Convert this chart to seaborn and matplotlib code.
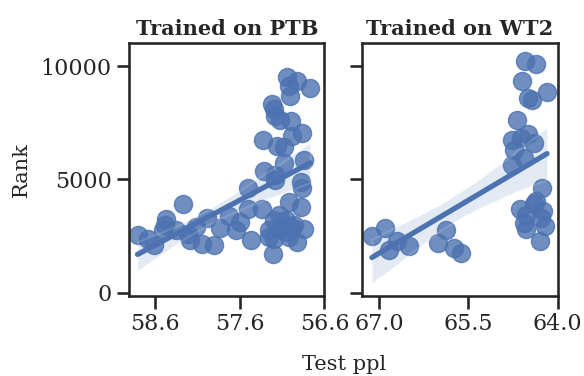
import seaborn as sns
from matplotlib import pyplot as plt
import pandas as pd

ptb_ppl = [58.81, 58.69, 58.61, 58.51, 58.47, 58.48, 58.35, 58.27, 58.21, 58.19,
           58.12, 58.05, 57.99, 57.91, 57.83, 57.73, 57.64, 57.60, 57.50, 57.50,
           57.47, 57.34, 57.33, 57.31, 57.26, 57.26, 57.22, 57.20, 57.18, 57.20,
           57.21, 57.20, 57.18, 57.16, 57.12, 57.08, 57.08, 57.18, 57.14, 57.12,
           57.06, 57.04, 57.02, 57.04, 57.02, 57.01, 57.00, 56.98, 56.92, 56.92,
           56.88, 56.88, 56.86, 56.86, 56.84, 56.84, 56.77, 56.96, 57.02, 57.00]
ptb_rank = [2550, 2345, 2110, 2745, 3265, 2970, 2745, 3890, 2600, 2300,
            2890, 2150, 3295, 2110, 2865, 3370, 2745, 3115, 4600, 3710,
            2300, 3710, 6750, 5370, 2745, 2450, 8340, 8090, 7790, 3190,
            1710, 2375, 4970, 6455, 7600, 5710, 6410, 5190, 3410, 2820,
            3190, 2670, 4005, 9530, 9130, 8680, 7570, 6900, 9350, 2225,
            4900, 3785, 7050, 4600, 5860, 2820, 9050, 2970, 2450, 2890]

wt2_ppl = [67.12, 66.90, 66.83, 66.70, 66.50, 66.01, 65.88, 65.74, 65.62, 64.76,
           64.74, 64.76, 64.68, 64.60, 64.55, 64.36, 64.50, 64.43, 64.18, 64.61,
           64.50, 64.39, 64.56, 64.64, 64.53, 64.56, 64.53, 64.36, 64.39, 64.26,
           64.25, 64.28, 64.22, 64.29]
wt2_rank = [2500, 2870, 1870, 2280, 2060, 2205, 2750, 1985, 1765, 6760,
            6290, 5615, 7615, 9335, 10245, 10115, 8600, 8500, 8865, 6835,
            6985, 6615, 5955, 3705, 3410, 3085, 2820, 4045, 3895, 4600,
            3600, 3310, 2940, 2280]

models = ["PTB", "WT2"]

df = pd.concat([
    pd.DataFrame({"ppl": ptb_ppl, "rank": ptb_rank, "model": models[0]}),
    pd.DataFrame({"ppl": wt2_ppl, "rank": wt2_rank, "model": models[1]}),
])

sns.set_theme(context="talk", style="ticks", font="serif")
plt.rcParams["font.family"] = ["DejaVu Serif"]
plt.rcParams["xtick.labelsize"] = 16
plt.rcParams["ytick.labelsize"] = 16
plt.rcParams["axes.labelsize"] = 15
plt.rcParams["axes.titlesize"] = 15

g = sns.lmplot(data=df, x="ppl", y="rank", col="model", col_order=models,
               sharex=False, height=3.76, aspect=0.78, seed=0,
               scatter_kws={"s": 170, "alpha": 0.8},
               line_kws={"linewidth": 3.8},
               facet_kws={"despine": False})
g.figure.set_size_inches(5.84, 3.76)
g.set_titles("Trained on {col_name}", fontweight="bold")
g.set_axis_labels("", "Rank")

ax1, ax2 = g.axes.flat
ax1.set_xlim(58.91, 56.6)
ax1.set_xticks([58.6, 57.6, 56.6], ["58.6", "57.6", "56.6"])
ax2.set_xlim(67.28, 64.0)
ax2.set_xticks([67.0, 65.5, 64.0], ["67.0", "65.5", "64.0"])
ax1.set_ylim(-150, 11030)
ax1.set_yticks([0, 5000, 10000])
ax1.yaxis.labelpad = 7

g.figure.supxlabel("Test ppl", x=0.59, y=0.004, fontsize=15)
g.figure.subplots_adjust(left=0.221, right=0.955, top=0.886, bottom=0.213, wspace=0.194)
g.figure.savefig("out.png", dpi=100)
